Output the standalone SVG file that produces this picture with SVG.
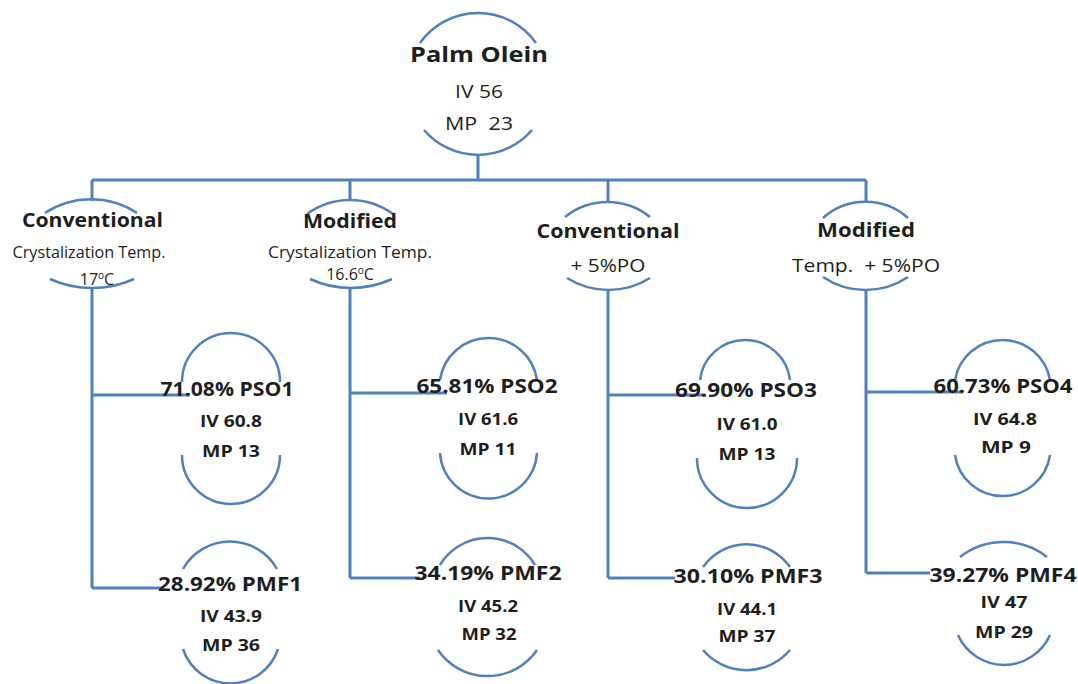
<svg xmlns="http://www.w3.org/2000/svg" width="1078" height="684" viewBox="0 0 1078 684">
<style>
.ln{stroke:#4f81bd;stroke-width:3;fill:none}
.arc{stroke:#4f81bd;stroke-width:2.5;fill:none}
text{font-family:"Open Sans","Noto Sans",sans-serif;fill:#1e1e1e;text-anchor:middle}
.t1{font-size:22px;font-weight:bold}
.t2{font-size:19px;font-weight:bold}
.sub{font-size:18px}
.sm{font-size:16px}
.r1{font-size:19.5px;font-weight:bold}
.r2{font-size:16px;font-weight:bold}
</style>
<rect width="1078" height="684" fill="#ffffff"/>
<g id="connectors">
<path class="ln" d="M478 155V180M92 180H866M92 180V201M350 180V201M608 180V203M866 180V203"/>
<path class="ln" d="M92 288V588M92 395H190M92 588H163"/>
<path class="ln" d="M350 288V578M350 393H447M350 578H420"/>
<path class="ln" d="M608 290V578M608 395H705M608 578H675"/>
<path class="ln" d="M866 290V573M866 392H963M866 573H930"/>
</g>
<g id="palm-olein">
<path class="arc" d="M420 43A71 71 0 0 1 536 43"/>
<path class="arc" d="M424 130A71 71 0 0 0 532 130"/>
<text class="t1" x="479" y="62" textLength="138" lengthAdjust="spacingAndGlyphs">Palm Olein</text>
<text class="sub" x="479" y="98" textLength="48" lengthAdjust="spacingAndGlyphs">IV 56</text>
<text class="sub" x="479" y="130" xml:space="preserve" textLength="68" lengthAdjust="spacingAndGlyphs">MP  23</text>
</g>
<g id="conventional-1">
<path class="arc" d="M45 213A84 84 0 0 1 137 213"/>
<path class="arc" d="M50 279A102 102 0 0 0 134 279"/>
<text class="t2" x="92.5" y="227" textLength="141" lengthAdjust="spacingAndGlyphs">Conventional</text>
<text class="sm" x="89" y="258" textLength="153" lengthAdjust="spacingAndGlyphs">Crystalization Temp.</text>
<text class="sm" x="97" y="285">17<tspan font-size="10" dy="-6">o</tspan><tspan dy="6">C</tspan></text>
</g>
<g id="modified-1">
<path class="arc" d="M307 214A73 73 0 0 1 393 214"/>
<path class="arc" d="M310 279A98 98 0 0 0 392 279"/>
<text class="t2" x="350" y="228" textLength="94" lengthAdjust="spacingAndGlyphs">Modified</text>
<text class="sm" x="350" y="258" textLength="164" lengthAdjust="spacingAndGlyphs">Crystalization Temp.</text>
<text class="sm" x="350" y="280">16.6<tspan font-size="10" dy="-6">o</tspan><tspan dy="6">C</tspan></text>
</g>
<g id="conventional-2">
<path class="arc" d="M565 217A68 68 0 0 1 650 217"/>
<path class="arc" d="M567 278A78 78 0 0 0 650 278"/>
<text class="t2" x="608" y="238" textLength="143" lengthAdjust="spacingAndGlyphs">Conventional</text>
<text class="sub" x="608" y="272" textLength="75" lengthAdjust="spacingAndGlyphs">+ 5%PO</text>
</g>
<g id="modified-2">
<path class="arc" d="M823 218A64 64 0 0 1 908 218"/>
<path class="arc" d="M823 277A76 76 0 0 0 908 277"/>
<text class="t2" x="866" y="237" textLength="98" lengthAdjust="spacingAndGlyphs">Modified</text>
<text class="sub" x="866" y="272" xml:space="preserve" textLength="148" lengthAdjust="spacingAndGlyphs">Temp.  + 5%PO</text>
</g>
<g id="pso1">
<path class="arc" d="M182 382A49 49 0 0 1 280 382"/>
<path class="arc" d="M182 455A49 49 0 0 0 280 455"/>
<text class="r1" x="227" y="396" textLength="133" lengthAdjust="spacingAndGlyphs">71.08% PSO1</text>
<text class="r2" x="231" y="427" textLength="62" lengthAdjust="spacingAndGlyphs">IV 60.8</text>
<text class="r2" x="231" y="457" textLength="58" lengthAdjust="spacingAndGlyphs">MP 13</text>
</g>
<g id="pmf1">
<path class="arc" d="M183 569A54 54 0 0 1 277 569"/>
<path class="arc" d="M183 649A50 50 0 0 0 278 649"/>
<text class="r1" x="230" y="591" textLength="144" lengthAdjust="spacingAndGlyphs">28.92% PMF1</text>
<text class="r2" x="231" y="622" textLength="62" lengthAdjust="spacingAndGlyphs">IV 43.9</text>
<text class="r2" x="231" y="651" textLength="58" lengthAdjust="spacingAndGlyphs">MP 36</text>
</g>
<g id="pso2">
<path class="arc" d="M440 380A49 49 0 0 1 537 380"/>
<path class="arc" d="M440 453A48.6 48.6 0 0 0 537 453"/>
<text class="r1" x="487" y="393" textLength="141" lengthAdjust="spacingAndGlyphs">65.81% PSO2</text>
<text class="r2" x="488" y="425" textLength="60" lengthAdjust="spacingAndGlyphs">IV 61.6</text>
<text class="r2" x="488" y="455" textLength="57" lengthAdjust="spacingAndGlyphs">MP 11</text>
</g>
<g id="pmf2">
<path class="arc" d="M440 565A55.3 55.3 0 0 1 535 565"/>
<path class="arc" d="M438 650A60 60 0 0 0 537 650"/>
<text class="r1" x="488" y="580" textLength="147" lengthAdjust="spacingAndGlyphs">34.19% PMF2</text>
<text class="r2" x="488" y="612" textLength="60" lengthAdjust="spacingAndGlyphs">IV 45.2</text>
<text class="r2" x="489" y="640" textLength="55" lengthAdjust="spacingAndGlyphs">MP 32</text>
</g>
<g id="pso3">
<path class="arc" d="M700 380A45.3 45.3 0 0 1 790 380"/>
<path class="arc" d="M697 458A50 50 0 0 0 797 458"/>
<text class="r1" x="746" y="397" textLength="142" lengthAdjust="spacingAndGlyphs">69.90% PSO3</text>
<text class="r2" x="747" y="430" textLength="61" lengthAdjust="spacingAndGlyphs">IV 61.0</text>
<text class="r2" x="747" y="460" textLength="57" lengthAdjust="spacingAndGlyphs">MP 13</text>
</g>
<g id="pmf3">
<path class="arc" d="M703 567A53 53 0 0 1 790 567"/>
<path class="arc" d="M703 650A57 57 0 0 0 790 650"/>
<text class="r1" x="748" y="583" textLength="149" lengthAdjust="spacingAndGlyphs">30.10% PMF3</text>
<text class="r2" x="747" y="615" textLength="60" lengthAdjust="spacingAndGlyphs">IV 44.1</text>
<text class="r2" x="747" y="642" textLength="57" lengthAdjust="spacingAndGlyphs">MP 37</text>
</g>
<g id="pso4">
<path class="arc" d="M955 380A48.2 48.2 0 0 1 1050 380"/>
<path class="arc" d="M955 455A48 48 0 0 0 1050 455"/>
<text class="r1" x="1003" y="393" textLength="139" lengthAdjust="spacingAndGlyphs">60.73% PSO4</text>
<text class="r2" x="1005" y="425" textLength="64" lengthAdjust="spacingAndGlyphs">IV 64.8</text>
<text class="r2" x="1006" y="453" textLength="50" lengthAdjust="spacingAndGlyphs">MP 9</text>
</g>
<g id="pmf4">
<path class="arc" d="M960 557A70.6 70.6 0 0 1 1047 557"/>
<path class="arc" d="M958 635A50.3 50.3 0 0 0 1050 635"/>
<text class="r1" x="1003" y="582" textLength="147" lengthAdjust="spacingAndGlyphs">39.27% PMF4</text>
<text class="r2" x="1004" y="608" textLength="47" lengthAdjust="spacingAndGlyphs">IV 47</text>
<text class="r2" x="1004" y="638" textLength="58" lengthAdjust="spacingAndGlyphs">MP 29</text>
</g>
</svg>
